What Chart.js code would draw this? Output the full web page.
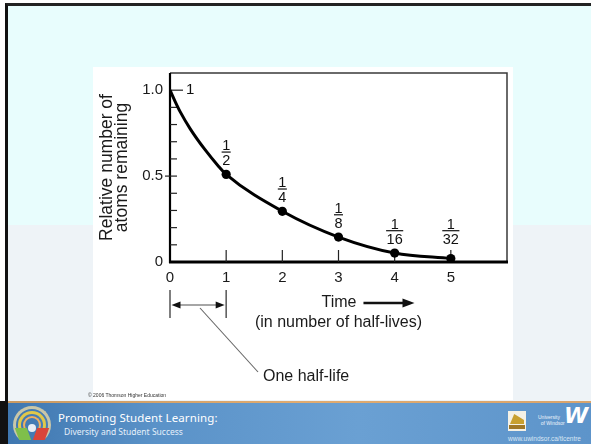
<!DOCTYPE html>
<html>
<head>
<meta charset="utf-8">
<script src="https://cdn.jsdelivr.net/npm/chart.js@4/dist/chart.umd.min.js"></script>
<style>
  html,body{margin:0;padding:0;}
  body{width:591px;height:444px;overflow:hidden;position:relative;background:#fff;font-family:"Liberation Sans",Arial,sans-serif;}
  #slide{position:absolute;left:5px;top:3px;width:586px;height:441px;border-left:3px solid #111;border-top:3px solid #222;box-sizing:border-box;
    background:linear-gradient(#e8fdfd 0,#e8fdfd 219px,#eef3f7 219px,#eef3f7 100%);}
  #panel{position:absolute;left:93px;top:67px;width:420px;height:333px;background:#fff;}
  #chartwrap{position:absolute;left:93px;top:67px;width:420px;height:333px;}
  #copy{position:absolute;left:88px;top:392px;font-size:5px;color:#333;white-space:nowrap;}
  #footline{position:absolute;left:8px;top:401px;width:583px;height:2px;background:linear-gradient(90deg,#c99a63,#e0ab70,#d9a46b);}
  #footer{position:absolute;left:8px;top:403px;width:583px;height:41px;background:linear-gradient(90deg,#3f77b0 0%,#5a92c8 25%,#6aa0d3 60%,#5d94ca 100%);}
  #leftbar{position:absolute;left:0;top:401px;width:8px;height:43px;background:#111;}
  .t1{position:absolute;left:58px;top:410px;color:#fff;font-family:"Noto Sans","Open Sans",sans-serif;font-size:11.5px;letter-spacing:0.1px;white-space:nowrap;}
  .t2{position:absolute;left:64px;top:426px;color:#e6f0fa;font-family:"Noto Sans","Open Sans",sans-serif;font-size:8.5px;white-space:nowrap;}
  .uw1{position:absolute;left:538px;top:414px;color:#eef4fb;font-size:5px;white-space:nowrap;line-height:6px;}
  .uw2{position:absolute;left:564px;top:403px;color:#fff;font-size:22px;font-style:italic;font-weight:bold;font-family:"DejaVu Sans",sans-serif;}
  .www{position:absolute;left:508px;top:435px;color:#d8e6f4;font-size:6.5px;white-space:nowrap;}
</style>
</head>
<body>
<div id="slide"></div>
<div id="panel"></div>
<div id="chartwrap"><canvas id="c" width="420" height="333"></canvas></div>
<div id="copy">© 2006 Thomson Higher Education</div>
<div id="leftbar"></div>
<div id="footline"></div>
<div id="footer"></div>
<!-- left logo -->
<div style="position:absolute;left:13px;top:406px;width:38px;height:38px;border-radius:50%;border:3px solid #c9c7a8;border-bottom-color:transparent;box-sizing:border-box;"></div>
<div style="position:absolute;left:18px;top:411px;width:28px;height:28px;border-radius:50%;border:3px solid #e0c84a;border-bottom-color:transparent;box-sizing:border-box;"></div>
<div style="position:absolute;left:23px;top:416px;width:18px;height:18px;border-radius:50%;border:2px solid #f0b060;border-bottom-color:transparent;box-sizing:border-box;"></div>
<div style="position:absolute;left:17px;top:428px;width:12px;height:12px;background:#7fbf4a;transform:skewX(20deg);"></div>
<div style="position:absolute;left:35px;top:428px;width:12px;height:12px;background:#d9453a;transform:skewX(-20deg);"></div>
<div style="position:absolute;left:28px;top:424px;width:8px;height:8px;border-radius:50%;background:#e8eef5;"></div>
<div class="t1">Promoting Student Learning:</div>
<div class="t2">Diversity and Student Success</div>
<!-- right logos -->
<div style="position:absolute;left:508px;top:411px;width:18px;height:20px;background:#f4f1e6;"></div>
<div style="position:absolute;left:510px;top:414px;width:14px;height:10px;background:#c8a030;clip-path:polygon(0 100%,30% 0,100% 60%,100% 100%);"></div>
<div style="position:absolute;left:509px;top:425px;width:16px;height:4px;background:#a07828;"></div>
<div class="uw1">University<br>&nbsp;&nbsp;of Windsor</div>
<div class="uw2">W</div>
<div class="www">www.uwindsor.ca/tlcentre</div>

<script>
// ---------------- data ----------------
const markerTimes  = [1, 2, 3, 4, 5];
const markerValues = [0.51, 0.295, 0.145, 0.052, 0.02];

const curveTimes  = [0, 0.09, 0.18, 0.36, 0.62, 0.87, 1, 2, 3, 4, 5];
const curveValues = [1, 0.935, 0.875, 0.775, 0.655, 0.555, 0.51, 0.295, 0.145, 0.052, 0.02];

const labelTimes        = [0, 1, 2, 3, 4, 5];
const labelNumerators   = ['1', '1', '1', '1', '1', '1'];
const labelDenominators = ['', '2', '4', '8', '16', '32'];
const labelValues       = [1, 0.51, 0.295, 0.145, 0.052, 0.02];

const xTickValues = [0, 1, 2, 3, 4, 5];
const xTickLabels = ['0', '1', '2', '3', '4', '5'];
const yTickValues = [0, 0.5, 1.0];
const yTickLabels = ['0', '0.5', '1.0'];

const yTitle = ['Relative number of', 'atoms remaining'];
const xTitleMain = 'Time';
const xTitleSub = '(in number of half-lives)';
const halfLifeText = 'One half-life';
const halfLifeSpan = [0, 1];

// ---------------- drawing ----------------
const FONT = '"Liberation Sans", Arial, Helvetica, sans-serif';

function arrowHead(ctx, x, y, dir, len, half) {
  ctx.beginPath();
  ctx.moveTo(x, y);
  ctx.lineTo(x - dir * len, y - half);
  ctx.lineTo(x - dir * len, y + half);
  ctx.closePath();
  ctx.fill();
}

const decor = {
  id: 'decor',
  beforeDatasetsDraw(chart) {
    const ctx = chart.ctx, a = chart.chartArea;
    const xs = chart.scales.x, ys = chart.scales.y;
    ctx.save();
    ctx.strokeStyle = '#3a3a3a';
    ctx.lineWidth = 1.5;
    ctx.beginPath();
    ctx.moveTo(a.left, a.top); ctx.lineTo(a.right, a.top); ctx.lineTo(a.right, a.bottom);
    ctx.stroke();
    ctx.strokeStyle = '#000';
    ctx.lineWidth = 2.2;
    ctx.beginPath(); ctx.moveTo(a.left, a.top); ctx.lineTo(a.left, a.bottom + 1); ctx.stroke();
    ctx.lineWidth = 3;
    ctx.beginPath(); ctx.moveTo(a.left - 1, a.bottom); ctx.lineTo(a.right + 1, a.bottom); ctx.stroke();

    ctx.lineWidth = 1.2;
    ctx.strokeStyle = '#222';
    ys.ticks.forEach(t => {
      const v = t.value;
      if (v <= 0.0001 || v > 1.05) return;
      const py = ys.getPixelForValue(v);
      const major = Math.abs(v - 0.5) < 1e-6;
      const top = Math.abs(v - 1) < 1e-6;
      ctx.beginPath();
      ctx.moveTo(a.left - (major ? 5 : 0), py);
      ctx.lineTo(a.left + (top ? 13 : 7), py);
      ctx.stroke();
    });
    xs.ticks.forEach(t => {
      const v = t.value;
      if (v <= 0 || v > 5) return;
      const px = xs.getPixelForValue(v);
      ctx.beginPath(); ctx.moveTo(px, a.bottom); ctx.lineTo(px, a.bottom - 12); ctx.stroke();
    });
    ctx.restore();
  },
  afterDatasetsDraw(chart) {
    const ctx = chart.ctx, a = chart.chartArea;
    const xs = chart.scales.x, ys = chart.scales.y;
    ctx.save();
    ctx.fillStyle = '#111';
    ctx.strokeStyle = '#111';
    labelTimes.forEach((t, i) => {
      const px = xs.getPixelForValue(t);
      const py = ys.getPixelForValue(labelValues[i]);
      if (!labelDenominators[i]) {
        ctx.font = '15px ' + FONT;
        ctx.textAlign = 'left'; ctx.textBaseline = 'middle';
        ctx.fillText(labelNumerators[i], a.left + 16, py);
        return;
      }
      ctx.font = '14.5px ' + FONT;
      ctx.textAlign = 'center'; ctx.textBaseline = 'alphabetic';
      const D = Math.min(py - 9, a.bottom - 18);
      ctx.fillText(labelDenominators[i], px, D);
      ctx.fillText(labelNumerators[i], px, D - 15.5);
      const w = Math.max(ctx.measureText(labelNumerators[i]).width, ctx.measureText(labelDenominators[i]).width) + 1;
      ctx.lineWidth = 1.2;
      ctx.beginPath(); ctx.moveTo(px - w / 2, D - 13.3); ctx.lineTo(px + w / 2, D - 13.3); ctx.stroke();
    });

    const cx = xs.getPixelForValue(3);
    ctx.font = '16px ' + FONT;
    ctx.textBaseline = 'middle';
    ctx.textAlign = 'left';
    ctx.fillStyle = '#1a1a1a';
    const timeX = cx - 17;
    ctx.fillText(xTitleMain, timeX, a.bottom + 41);
    const tw = ctx.measureText(xTitleMain).width;
    ctx.lineWidth = 2.5;
    ctx.strokeStyle = '#111';
    const ax0 = timeX + tw + 7, ax1 = cx + 76;
    ctx.beginPath(); ctx.moveTo(ax0, a.bottom + 41); ctx.lineTo(ax1 - 8, a.bottom + 41); ctx.stroke();
    ctx.fillStyle = '#111';
    arrowHead(ctx, ax1, a.bottom + 41, 1, 12, 4.5);
    ctx.fillStyle = '#1a1a1a';
    ctx.textAlign = 'center';
    ctx.fillText(xTitleSub, cx, a.bottom + 61);

    const h0 = xs.getPixelForValue(halfLifeSpan[0]);
    const h1 = xs.getPixelForValue(halfLifeSpan[1]);
    ctx.strokeStyle = '#555';
    ctx.lineWidth = 1.5;
    ctx.beginPath();
    ctx.moveTo(h0, a.bottom + 28); ctx.lineTo(h0, a.bottom + 56);
    ctx.moveTo(h1, a.bottom + 28); ctx.lineTo(h1, a.bottom + 56);
    ctx.stroke();
    const ay = a.bottom + 43;
    ctx.strokeStyle = '#888';
    ctx.lineWidth = 1.6;
    ctx.beginPath(); ctx.moveTo(h0 + 6, ay); ctx.lineTo(h1 - 6, ay); ctx.stroke();
    ctx.fillStyle = '#111';
    arrowHead(ctx, h0 + 1.5, ay, -1, 9, 3.5);
    arrowHead(ctx, h1 - 1.5, ay, 1, 9, 3.5);
    ctx.strokeStyle = '#666';
    ctx.lineWidth = 1.1;
    ctx.beginPath(); ctx.moveTo(h0 + 30, a.bottom + 46); ctx.lineTo(h0 + 88, a.bottom + 110); ctx.stroke();
    ctx.fillStyle = '#1a1a1a';
    ctx.font = '16px ' + FONT;
    ctx.textAlign = 'left'; ctx.textBaseline = 'middle';
    ctx.fillText(halfLifeText, h0 + 93, a.bottom + 115);
    ctx.restore();
  }
};

new Chart(document.getElementById('c'), {
  type: 'scatter',
  data: {
    datasets: [
      {
        label: 'decay curve',
        data: curveTimes.map((t, i) => ({ x: t, y: curveValues[i] })),
        showLine: true,
        borderColor: '#000',
        borderWidth: 3,
        pointRadius: 0,
        cubicInterpolationMode: 'monotone',
        fill: false
      },
      {
        label: 'half-life points',
        data: markerTimes.map((t, i) => ({ x: t, y: markerValues[i] })),
        showLine: false,
        pointRadius: 4.6,
        pointBackgroundColor: '#000',
        pointBorderColor: '#000',
        pointBorderWidth: 0
      }
    ]
  },
  options: {
    responsive: false,
    animation: false,
    devicePixelRatio: 1,
    layout: { padding: { left: 0, top: 6, right: 6, bottom: 0 } },
    plugins: { legend: { display: false }, tooltip: { enabled: false }, title: { display: false } },
    scales: {
      x: {
        type: 'linear', min: 0, max: 6,
        grid: { display: false, drawTicks: false },
        border: { display: false },
        ticks: {
          stepSize: 1, padding: 7, color: '#1a1a1a', autoSkip: false, maxRotation: 0,
          font: { family: FONT, size: 15 },
          callback: v => { const i = xTickValues.indexOf(v); return i >= 0 ? xTickLabels[i] : ''; }
        },
        afterFit: s => { s.height = 138; s.paddingLeft = 0; s.paddingRight = 0; s.paddingTop = 0; s.paddingBottom = 0; }
      },
      y: {
        type: 'linear', min: 0, max: 1.1,
        grid: { display: false, drawTicks: false },
        border: { display: false },
        title: {
          display: true, text: yTitle, color: '#1a1a1a',
          font: { family: FONT, size: 17.5, lineHeight: '15px' },
          padding: { top: 7, bottom: 0 }
        },
        ticks: {
          stepSize: 0.1, padding: 7, color: '#1a1a1a', autoSkip: false,
          font: { family: FONT, size: 15 },
          callback: v => { const i = yTickValues.findIndex(t => Math.abs(t - v) < 1e-6); return i >= 0 ? yTickLabels[i] : ''; }
        },
        afterFit: s => { s.width = 77; s.paddingLeft = 0; s.paddingRight = 0; s.paddingTop = 0; s.paddingBottom = 0; }
      }
    }
  },
  plugins: [decor]
});
</script>
</body>
</html>
